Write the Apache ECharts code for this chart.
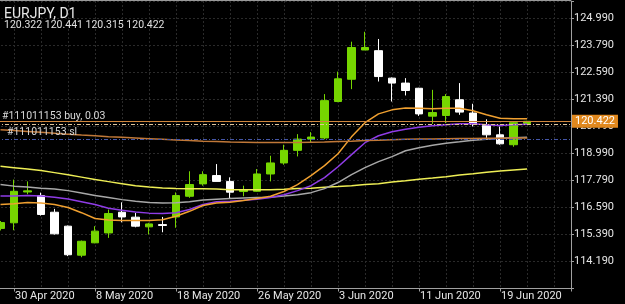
<!DOCTYPE html>
<html><head><meta charset="utf-8">
<script src="https://cdn.jsdelivr.net/npm/echarts@6/dist/echarts.min.js"></script>
<style>html,body{margin:0;padding:0;background:#000;overflow:hidden}#c{width:625px;height:304px}</style>
</head><body><div id="c"></div>
<script>
// ---- data ----
const dates = ['29 Apr 2020','30 Apr 2020','1 May 2020','4 May 2020','5 May 2020','6 May 2020','7 May 2020','8 May 2020',
 '11 May 2020','12 May 2020','13 May 2020','14 May 2020','15 May 2020','18 May 2020','19 May 2020','20 May 2020','21 May 2020','22 May 2020',
 '25 May 2020','26 May 2020','27 May 2020','28 May 2020','29 May 2020','1 Jun 2020','2 Jun 2020','3 Jun 2020','4 Jun 2020','5 Jun 2020',
 '8 Jun 2020','9 Jun 2020','10 Jun 2020','11 Jun 2020','12 Jun 2020','15 Jun 2020','16 Jun 2020','17 Jun 2020','18 Jun 2020','19 Jun 2020',
 '22 Jun 2020','23 Jun 2020'];
const open  = [115.66,115.91,117.28,117.12,116.38,115.76,114.47,115.02,115.46,116.38,116.16,115.73,115.83,116.17,117.09,117.64,118.01,117.75,117.30,117.31,118.08,118.57,119.13,119.63,119.68,121.30,122.29,123.59,123.56,122.34,122.12,121.89,120.65,120.68,121.38,120.79,120.24,119.82,119.38,120.322];
const high  = [115.99,117.83,117.75,117.25,116.53,115.79,115.12,115.76,116.50,116.82,116.35,115.91,116.17,117.26,118.20,118.20,118.52,117.93,117.56,118.30,118.89,119.38,119.85,119.94,121.63,122.63,123.96,124.40,124.08,122.37,122.34,121.91,121.82,121.63,122.12,121.20,120.51,120.19,120.42,120.441];
const low   = [115.57,115.58,117.18,116.23,115.39,114.43,114.38,115.00,115.24,115.93,115.71,115.39,115.49,115.69,117.02,117.56,117.75,116.97,117.09,117.29,117.75,118.49,118.86,119.50,119.62,121.27,121.85,123.59,122.19,121.30,121.57,120.66,120.31,120.34,120.71,120.19,119.65,119.38,119.29,120.315];
const close = [115.92,117.31,117.33,116.28,115.42,114.49,115.09,115.54,116.32,116.17,115.76,115.86,115.79,117.12,117.61,118.05,117.75,117.27,117.39,118.08,118.57,119.13,119.63,119.72,121.34,122.31,123.70,123.70,122.41,122.12,121.79,120.75,120.81,121.52,120.83,120.31,119.82,119.42,120.36,120.422];
const maOrange = [116.72,116.76,116.81,116.79,116.72,116.59,116.36,116.10,116.03,116.01,116.01,116.01,116.05,116.20,116.42,116.68,116.79,116.82,116.90,116.99,117.09,117.30,117.61,118.01,118.45,118.98,119.73,120.36,120.75,120.93,121.01,121.00,120.98,121.00,121.00,120.89,120.71,120.56,120.53,120.53];
const maPurple = [117.10,117.10,117.12,117.10,117.05,116.97,116.85,116.72,116.56,116.47,116.39,116.34,116.32,116.36,116.50,116.72,116.85,116.87,116.91,116.96,117.03,117.16,117.34,117.56,117.92,118.40,118.94,119.47,119.78,119.96,120.07,120.16,120.22,120.27,120.31,120.31,120.27,120.24,120.27,120.29];
const maGray   = [117.61,117.54,117.50,117.45,117.41,117.34,117.23,117.12,117.03,116.94,116.87,116.81,116.79,116.80,116.85,116.92,116.96,116.99,117.01,117.03,117.05,117.10,117.16,117.25,117.43,117.70,118.05,118.36,118.63,118.85,119.11,119.25,119.36,119.45,119.51,119.58,119.62,119.67,119.69,119.71];
const maYellow = [118.42,118.36,118.30,118.23,118.14,118.05,117.94,117.83,117.74,117.65,117.56,117.50,117.46,117.43,117.42,117.42,117.41,117.38,117.38,117.38,117.38,117.40,117.43,117.45,117.49,117.52,117.56,117.61,117.65,117.72,117.78,117.85,117.90,117.96,118.03,118.09,118.16,118.21,118.26,118.30];
const maBrown  = [120.05,120.01,119.97,119.93,119.89,119.85,119.81,119.78,119.74,119.71,119.68,119.65,119.62,119.59,119.57,119.54,119.52,119.50,119.49,119.48,119.48,119.48,119.48,119.49,119.50,119.52,119.54,119.57,119.58,119.60,119.62,119.63,119.64,119.65,119.66,119.66,119.67,119.67,119.68,119.68];
const xTickLabels = ['30 Apr 2020','8 May 2020','18 May 2020','26 May 2020','3 Jun 2020','11 Jun 2020','19 Jun 2020'];
const yTickLabels = ['114.190','115.390','116.590','117.790','118.990','120.190','121.390','122.590','123.790','124.990'];
const bidPrice = 120.422, orderPrice = 120.31, slPrice = 119.62;
const orderLabel = '#111011153 buy, 0.03', slLabel = '#111011153 sl';
const symbolTitle = 'EURJPY, D1';

// ---- build ----
const FONT = 'Roboto, "Liberation Sans", sans-serif';
const GREEN = '#76d600';
const GRIDC = '#2a2a2a';
const OFFSET = 11;               // bar slot of the first date
const pos = k => k + OFFSET;
const candleData = dates.map((d, k) => [pos(k), open[k], close[k], low[k], high[k]]);
const lineData = arr => arr.map((v, k) => [pos(k), v]);
const last = dates.length - 1;
const ohlcText = [open[last], high[last], low[last], close[last]].map(v => v.toFixed(3)).join(' ');

function xFmt(v) {
  const r = Math.round(v);
  if (Math.abs(v - r) > 1e-6) return '';
  const d = dates[r - OFFSET];
  return (d && xTickLabels.includes(d)) ? d : '';
}
function yFmt(v) {
  const s = v.toFixed(3);
  return yTickLabels.includes(s) ? s : '';
}
const XMIN = 6, XMAX = 53.259;
const chart = echarts.init(document.getElementById('c'), null, {renderer: 'canvas'});
const ma = (name, data, color, z) => ({
  name, type: 'line', data: lineData(data), showSymbol: false, symbol: 'none', smooth: false,
  lineStyle: {color, width: 1.5}, z, silent: true
});
chart.setOption({
  backgroundColor: '#000',
  animation: false,
  grid: {left: -67, right: 54, top: 1, bottom: 15.5, containLabel: false, outerBoundsMode: 'none'},
  xAxis: {type: 'value', min: XMIN, max: XMAX, interval: 6, position: 'bottom',
     axisLine: {show: true, onZero: false, lineStyle: {color: '#a0a0a0', width: 1}},
     axisTick: {show: true, length: 3, lineStyle: {color: '#a0a0a0'}},
     axisLabel: {formatter: xFmt, color: '#e6e6e6', fontSize: 11, fontFamily: FONT, align: 'left', margin: 2, padding: [0, 0, 0, 1]},
     splitLine: {show: true, lineStyle: {color: GRIDC, type: [2, 2], width: 1}},
     minorTick: {show: false, splitNumber: 3},
     minorSplitLine: {show: true, lineStyle: {color: GRIDC, type: [2, 2], width: 1}}},
  yAxis: {type: 'value', position: 'right', min: 112.99, max: 125.768, interval: 1.2,
    axisLine: {show: true, onZero: false, lineStyle: {color: '#a0a0a0'}},
    axisTick: {show: true, length: 3, lineStyle: {color: '#a0a0a0'}},
    axisLabel: {formatter: yFmt, color: '#e6e6e6', fontSize: 11, fontFamily: FONT, margin: 3},
    splitLine: {show: true, lineStyle: {color: GRIDC, type: [2, 2], width: 1}}},
  series: [
    {type: 'candlestick', data: candleData, barWidth: 8, z: 2, silent: true,
     itemStyle: {color: GREEN, color0: '#ffffff', borderColor: GREEN, borderColor0: '#ffffff', borderWidth: 1}},
    ma('yellow', maYellow, '#eeee55', 3),
    ma('gray', maGray, '#a8a8a8', 3),
    ma('purple', maPurple, '#8f3ce6', 3),
    ma('orange', maOrange, '#f0a030', 3),
    Object.assign(ma('brown', maBrown, '#c07838', 4), {
      markLine: {symbol: 'none', silent: true, animation: false,
        data: [
          {yAxis: slPrice, lineStyle: {color: '#4456a8', type: [4, 2, 1, 2], width: 1}, label: {show: false}},
          {yAxis: orderPrice, lineStyle: {color: '#e0c49a', type: [4, 2, 1, 2], width: 1}, label: {show: false}},
          {yAxis: bidPrice, lineStyle: {color: '#d0863c', type: 'solid', width: 1},
           label: {show: true, position: 'end', formatter: bidPrice.toFixed(3), color: '#ffffff',
                   backgroundColor: '#e0881e', padding: [1, 3, 0, 3], lineHeight: 12, fontSize: 11, fontFamily: FONT, distance: 1}}
        ]}
    })
  ]
});
const yOrder = chart.convertToPixel({yAxisIndex: 0}, orderPrice);
const ySl = chart.convertToPixel({yAxisIndex: 0}, slPrice);
chart.setOption({
  graphic: [
    {type: 'line', shape: {x1: 0, y1: 0.5, x2: 571, y2: 0.5}, style: {stroke: '#9a9a9a', lineWidth: 1}, silent: true},
    {type: 'text', x: 4, y: 7, style: {text: symbolTitle, fill: '#e8e8e8', fontSize: 14, fontFamily: FONT, align: 'left', verticalAlign: 'top'}, silent: true},
    {type: 'text', x: 4, y: 20, style: {text: ohlcText, fill: '#e0e0e0', fontSize: 10.5, fontFamily: FONT, align: 'left', verticalAlign: 'top'}, silent: true},
    {type: 'text', x: 2, y: yOrder - 2, style: {text: orderLabel, fill: '#d8d8d8', fontSize: 10.5, fontFamily: FONT, align: 'left', verticalAlign: 'bottom'}, silent: true, z: 10},
    {type: 'text', x: 7, y: ySl - 1, style: {text: slLabel, fill: '#d8d8d8', fontSize: 10.5, fontFamily: FONT, align: 'left', verticalAlign: 'bottom'}, silent: true, z: 10}
  ]
});
</script>
</body></html>
